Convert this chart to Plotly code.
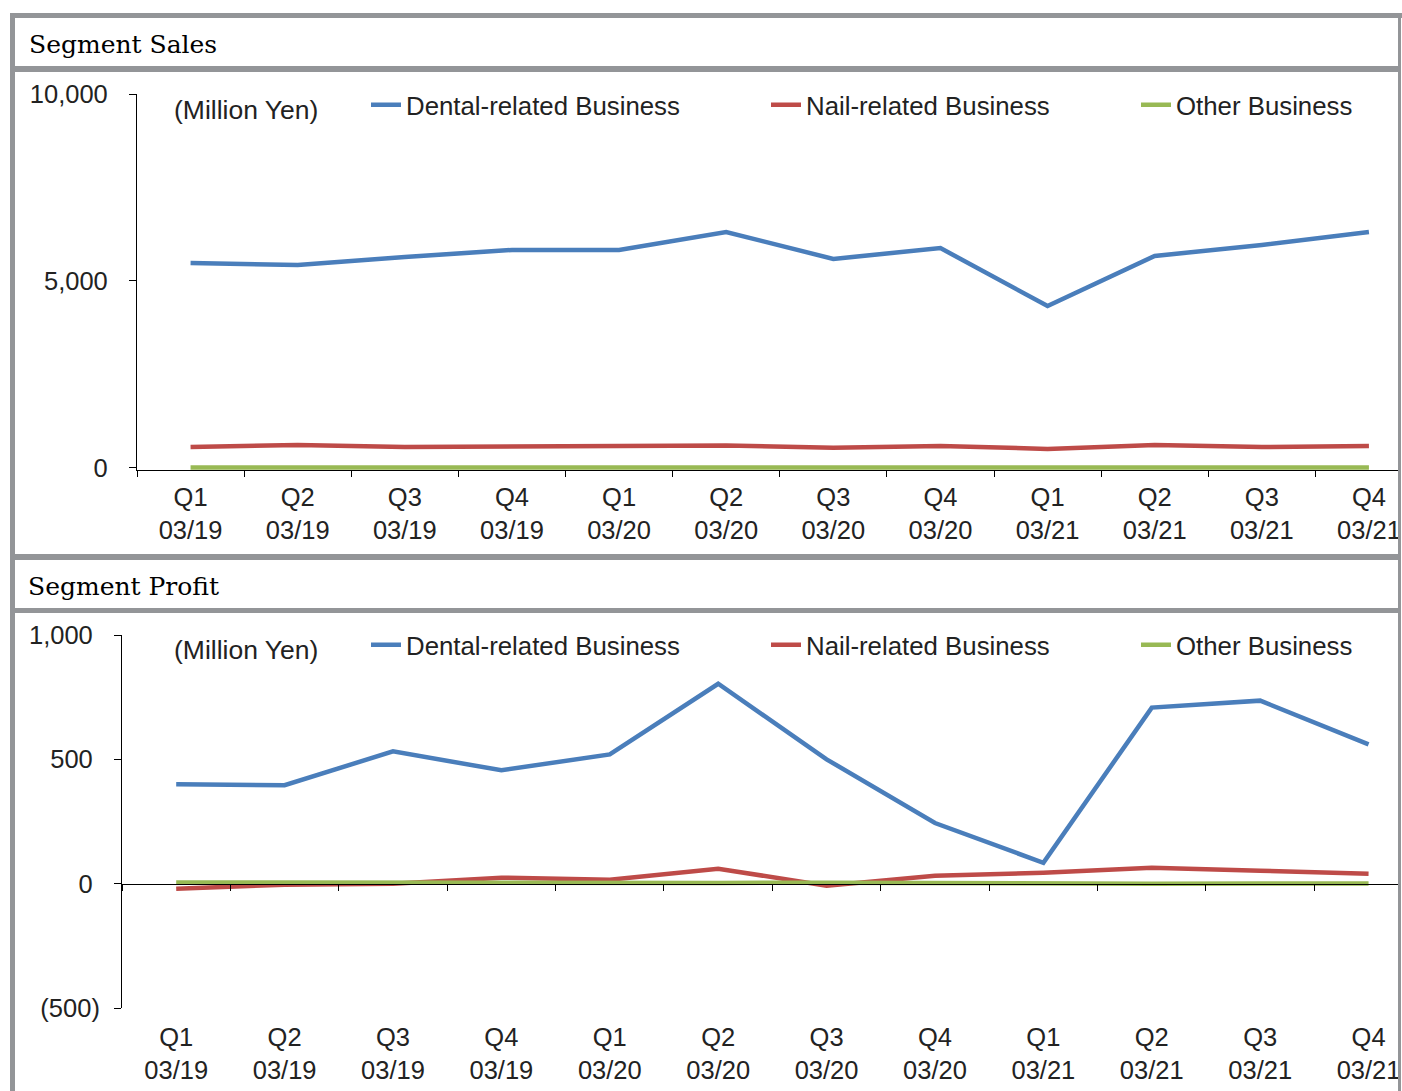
import plotly.graph_objects as go

W, H = 1402, 1091

quarters = ["Q1<br>03/19", "Q2<br>03/19", "Q3<br>03/19", "Q4<br>03/19",
            "Q1<br>03/20", "Q2<br>03/20", "Q3<br>03/20", "Q4<br>03/20",
            "Q1<br>03/21", "Q2<br>03/21", "Q3<br>03/21", "Q4<br>03/21"]

series_names = ["Dental-related Business", "Nail-related Business", "Other Business"]

sales_dental = [5480, 5430, 5640, 5830, 5830, 6310, 5590, 5880, 4330, 5670, 5960, 6310]
sales_nail = [560, 615, 560, 590, 590, 600, 540, 590, 510, 615, 560, 590]
sales_other = [15, 15, 14, 14, 13, 13, 12, 12, 12, 12, 12, 12]

profit_dental = [400, 396, 532, 456, 520, 804, 500, 244, 84, 708, 736, 560]
profit_nail = [-20, -4, 0, 24, 16, 60, -8, 32, 44, 64, 52, 40]
profit_other = [5, 4, 3, 3, 2, 3, 4, 2, 1, 0, 1, 1]

sales_ticks = [0, 5000, 10000]
sales_ticktext = ["0\u00a0", "5,000\u00a0", "10,000\u00a0"]
profit_ticks = [-500, 0, 500, 1000]
profit_ticktext = ["(500)", "0\u00a0", "500\u00a0", "1,000\u00a0"]

colors = ["#4a7ebb", "#be4b48", "#98b954"]
legend_widths = [355, 325, 180]
FONT = "Liberation Sans, Arial, sans-serif"
TXT = "#222222"
GRAY = "#939598"


def X(px):
    return px / W


def Y(py):
    return 1 - py / H


fig = go.Figure()

for name, vals, col, lw in zip(series_names, [sales_dental, sales_nail, sales_other], colors, legend_widths):
    fig.add_trace(go.Scatter(x=quarters, y=vals, name=name, mode="lines",
                             line=dict(color=col, width=4.5), xaxis="x", yaxis="y",
                             legend="legend", legendwidth=lw, cliponaxis=False))

for name, vals, col, lw in zip(series_names, [profit_dental, profit_nail, profit_other], colors, legend_widths):
    fig.add_trace(go.Scatter(x=quarters, y=vals, name=name, mode="lines",
                             line=dict(color=col, width=4.5), xaxis="x2", yaxis="y2",
                             legend="legend2", legendwidth=lw, cliponaxis=False))

# chart 2 geometry
y2_range = [-500, 1000]
y2_dom = [Y(1008), Y(635)]
zero_pos = y2_dom[0] + (0 - y2_range[0]) / (y2_range[1] - y2_range[0]) * (y2_dom[1] - y2_dom[0])

common_x = dict(type="category", showline=True, linecolor="black", linewidth=1,
                ticks="outside", tickson="boundaries", ticklen=6, tickcolor="black",
                showgrid=False, zeroline=False, tickfont=dict(family=FONT, size=25.5, color=TXT),
                range=[-0.5, 11.29], fixedrange=True, automargin=False)
common_y = dict(showline=True, linecolor="black", linewidth=1, ticks="outside", ticklen=7,
                tickcolor="black", showgrid=False, zeroline=False, automargin=False,
                tickfont=dict(family=FONT, size=25.5, color=TXT), ticklabelstandoff=9)

fig.update_layout(
    width=W, height=H, margin=dict(l=0, r=0, t=0, b=0, autoexpand=False),
    paper_bgcolor="white", plot_bgcolor="rgba(0,0,0,0)",
    font=dict(family=FONT, size=26, color=TXT),
    xaxis=dict(domain=[X(137), X(1400)], anchor="y", ticklabelstandoff=4, **common_x),
    yaxis=dict(domain=[Y(470.2), Y(94)], range=[-60, 10000], tickvals=sales_ticks,
               ticktext=sales_ticktext, anchor="x", **common_y),
    xaxis2=dict(domain=[X(122), X(1400)], anchor="free", position=zero_pos,
                ticklabelstandoff=131, **common_x),
    yaxis2=dict(domain=y2_dom, range=y2_range, tickvals=profit_ticks,
                ticktext=profit_ticktext, anchor="x2", **common_y),
    legend=dict(orientation="h", x=X(366), xanchor="left", y=Y(105), yanchor="middle",
                bgcolor="rgba(0,0,0,0)", font=dict(family=FONT, size=25.8, color=TXT),
                traceorder="normal"),
    legend2=dict(orientation="h", x=X(366), xanchor="left", y=Y(645), yanchor="middle",
                 bgcolor="rgba(0,0,0,0)", font=dict(family=FONT, size=25.8, color=TXT),
                 traceorder="normal"),
    showlegend=True,
)

# frame and separators
frame = [
    (10, 13, 1402, 18),
    (10, 13, 15, 1091),
    (1398, 13, 1401, 1091),
    (15, 66, 1398, 72),
    (15, 554, 1398, 560),
    (15, 608, 1398, 613),
]
for x0, y0, x1, y1 in frame:
    fig.add_shape(type="rect", xref="paper", yref="paper", x0=X(x0), x1=X(x1), y0=Y(y1), y1=Y(y0),
                  fillcolor=GRAY, line=dict(width=0), layer="above")

annos = [
    ("Segment Sales", 27, 45, "DejaVu Serif, serif", 25, "black"),
    ("Segment Profit", 26, 586, "DejaVu Serif, serif", 25, "black"),
    ("(Million Yen)", 172, 110, FONT, 26.5, TXT),
    ("(Million Yen)", 172, 650, FONT, 26.5, TXT),
]
for text, x, y, fam, size, col in annos:
    fig.add_annotation(text=text, xref="paper", yref="paper", x=X(x), y=Y(y),
                       xanchor="left", yanchor="middle", showarrow=False,
                       font=dict(family=fam, size=size, color=col))

fig.write_html("out.html")
